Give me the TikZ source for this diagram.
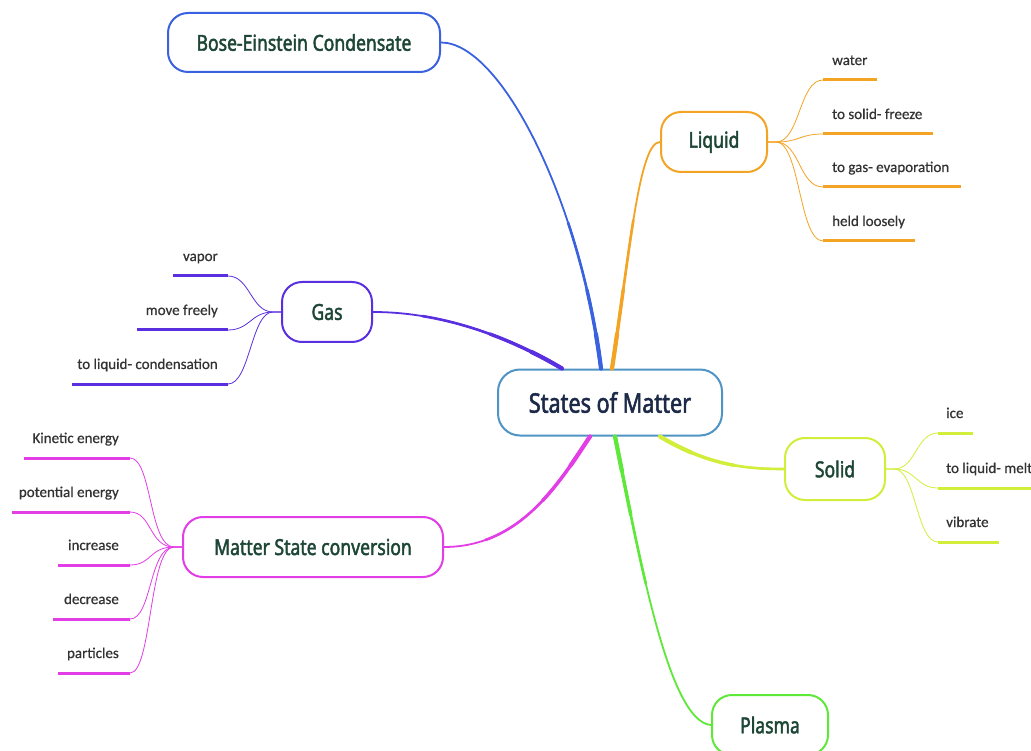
\documentclass[tikz,border=0pt]{standalone}
\usepackage{fontspec}
\setmainfont{Noto Sans}
\newfontfamily\nodefont[FakeStretch=0.8,FakeBold=2]{Noto Sans}
\newfontfamily\leaffont[FakeBold=0.6]{Carlito}
\definecolor{cbose}{HTML}{3A62E0}
\definecolor{cliq}{HTML}{F4A424}
\definecolor{cgas}{HTML}{5A2FE0}
\definecolor{cmsc}{HTML}{E23DE6}
\definecolor{csolid}{HTML}{D2EE3A}
\definecolor{cplasma}{HTML}{5EE83A}
\definecolor{ccenter}{HTML}{4F94C4}
\definecolor{tgreen}{HTML}{1D4636}
\definecolor{tnavy}{HTML}{1C2A48}
\definecolor{tleaf}{HTML}{333333}
\begin{document}
\begin{tikzpicture}[x=1pt,y=-1pt,
  topic/.style={draw, fill=white, rounded corners=20pt, line width=2pt, text=tgreen,
    inner sep=0pt, font=\nodefont\fontsize{22}{26}\selectfont},
  central/.style={topic, rounded corners=22pt, text=tnavy, draw=ccenter,
    font=\nodefont\fontsize{27}{32}\selectfont},
  leaf/.style={inner sep=0pt, text=tleaf, font=\leaffont\fontsize{15}{17}\selectfont},
  leafline/.style={line width=3pt},
  leafconn/.style={line width=0.8pt},
  branch/.style={line width=1.8pt, line cap=round}
]
\useasboundingbox (0,0) rectangle (1031,751);
\fill[white] (0,0) rectangle (1031,751);

% topic nodes
\node[central, minimum width=224pt, minimum height=66pt] (c) at (610,402.5) {States of Matter};
\node[topic, draw=cbose, minimum width=272pt, minimum height=59pt] (bose) at (304,42.5) {Bose-Einstein Condensate};
\node[topic, draw=cliq, minimum width=106pt, minimum height=60pt] (liquid) at (714,142) {Liquid};
\node[topic, draw=cgas, minimum width=90pt, minimum height=60pt] (gas) at (327,312) {Gas};
\node[topic, draw=cmsc, minimum width=260pt, minimum height=60pt] (msc) at (313,547) {Matter State conversion};
\node[topic, draw=csolid, minimum width=100pt, minimum height=62pt] (solid) at (835,469) {Solid};
\node[topic, draw=cplasma, minimum width=116pt, minimum height=60pt] (plasma) at (770,725) {Plasma};

% main branches (tapered: thicker near the centre)
\foreach \w/\d in {1.8/2000, 2.6/150, 3.4/80, 4.2/35}{
  \draw[branch, cbose, line width=\w pt, dash pattern=on \d pt off 3000pt]
    ([xshift=-9pt]c.north) .. controls +(-21,-168) and +(60,0) .. (bose.east);
  \draw[branch, cliq, line width=\w pt, dash pattern=on \d pt off 3000pt]
    ([xshift=2pt]c.north) .. controls +(18,-118) and +(-21,0) .. (liquid.west);
  \draw[branch, cgas, line width=\w pt, dash pattern=on \d pt off 3000pt]
    ([xshift=-48pt]c.north) .. controls +(-42,-25) and +(78,0) .. (gas.east);
  \draw[branch, cmsc, line width=\w pt, dash pattern=on \d pt off 3000pt]
    ([xshift=-20pt]c.south) .. controls +(-30,45) and +(77,0) .. (msc.east);
  \draw[branch, csolid, line width=\w pt, dash pattern=on \d pt off 3000pt]
    ([xshift=50pt]c.south) .. controls +(50,30) and +(-35,0) .. (solid.west);
  \draw[branch, cplasma, line width=\w pt, dash pattern=on \d pt off 3000pt]
    ([xshift=5pt]c.south) .. controls +(25,124) and +(-42,-3) .. (plasma.west);
}

% Liquid leaves
\foreach \t/\y/\xe [count=\i] in {water/80/877, to solid- freeze/134/933, to gas- evaporation/187/961, held loosely/241/915}{
  \coordinate (lq\i s) at (823,\y);
  \coordinate (lq\i e) at (\xe,\y);
  \node[leaf, anchor=base west] (lq\i) at (832,\y-15) {\t};
  \draw[leafline, cliq] (lq\i s) -- (lq\i e);
  \draw[leafconn, cliq] (liquid.east) -- ++(8,0) .. controls +(24,0) and +(-24,0) .. (lq\i s);
}

% Gas leaves
\foreach \t/\y/\xs [count=\i] in {vapor/276/173, move freely/330/137, to liquid- condensation/384/72}{
  \coordinate (gs\i s) at (228,\y);
  \coordinate (gs\i e) at (\xs,\y);
  \node[leaf, anchor=base east] (gs\i) at (218,\y-15) {\t};
  \draw[leafline, cgas] (gs\i s) -- (gs\i e);
  \draw[leafconn, cgas] (gas.west) -- ++(-8,0) .. controls +(-22,0) and +(22,0) .. (gs\i s);
}

% Matter State conversion leaves
\foreach \t/\y/\xs [count=\i] in {Kinetic energy/458/24, potential energy/512/12, increase/565/58, decrease/619/53, particles/673/58}{
  \coordinate (ms\i s) at (130,\y);
  \coordinate (ms\i e) at (\xs,\y);
  \node[leaf, anchor=base east] (ms\i) at (119,\y-15) {\t};
  \draw[leafline, cmsc] (ms\i s) -- (ms\i e);
  \draw[leafconn, cmsc] (msc.west) -- ++(-8,0) .. controls +(-25,0) and +(22,0) .. (ms\i s);
}

% Solid leaves
\foreach \t/\y/\xe [count=\i] in {ice/433/973, to liquid- melt/488/1040, vibrate/542/999}{
  \coordinate (sd\i s) at (938,\y);
  \coordinate (sd\i e) at (\xe,\y);
  \node[leaf, anchor=base west] (sd\i) at (946,\y-15) {\t};
  \draw[leafline, csolid] (sd\i s) -- (sd\i e);
  \draw[leafconn, csolid] (solid.east) -- ++(8,0) .. controls +(22,0) and +(-22,0) .. (sd\i s);
}
\end{tikzpicture}
\end{document}
